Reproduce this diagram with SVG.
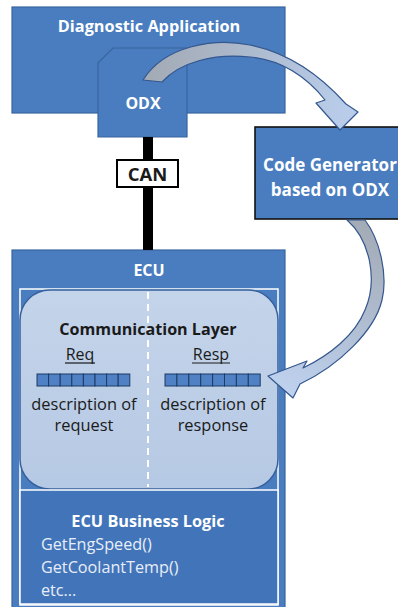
<svg xmlns="http://www.w3.org/2000/svg" width="398" height="607" viewBox="0 0 398 607">
  <style>
    .box { fill: #4a7dbf; stroke: #38659f; stroke-width: 1.2; }
    .wt { fill: #ffffff; font-family: "Open Sans", "Liberation Sans", Arial, sans-serif; font-weight: bold; text-anchor: middle; }
    .dk { fill: #1a1a1a; font-family: "Open Sans", "Liberation Sans", Arial, sans-serif; text-anchor: middle; }
    .code { fill: #e8eef8; font-family: "Open Sans", "Liberation Sans", Arial, sans-serif; font-size: 16.2px; }
    .cell { fill: #4f81c4; stroke: #1d3b66; stroke-width: 1; }
    .flow { stroke: #33578e; stroke-width: 1.2; stroke-linejoin: round; }
  </style>
  <defs>
    <linearGradient id="g1" gradientUnits="userSpaceOnUse" x1="150" y1="80" x2="345" y2="125">
      <stop offset="0" stop-color="#a3abb6"/>
      <stop offset="1" stop-color="#b9cdeb"/>
    </linearGradient>
    <linearGradient id="g2" gradientUnits="userSpaceOnUse" x1="360" y1="220" x2="275" y2="385">
      <stop offset="0" stop-color="#a3abb6"/>
      <stop offset="1" stop-color="#bed1ee"/>
    </linearGradient>
    <linearGradient id="gl" x1="0" y1="0" x2="0" y2="1">
      <stop offset="0" stop-color="#c4d4ea"/>
      <stop offset="1" stop-color="#b6c9e4"/>
    </linearGradient>
  </defs>

  <rect width="398" height="607" fill="#ffffff"/>

  <!-- Diagnostic Application with its ODX tab -->
  <g id="diag-app">
    <rect class="box" x="12" y="7" width="273" height="106"/>
    <text class="wt" x="149" y="32" font-size="16.3">Diagnostic Application</text>
  </g>
  <g id="odx">
    <path class="box" d="M98 63 L113 48 H187 V137 H98 Z"/>
    <text class="wt" x="143" y="109" font-size="16">ODX</text>
  </g>

  <!-- Code generator -->
  <g id="code-gen">
    <rect x="255" y="127" width="150" height="92" fill="#4a7dbf" stroke="#111111" stroke-width="1.6"/>
    <text class="wt" x="330" y="171" font-size="17">Code Generator</text>
    <text class="wt" x="330" y="196" font-size="17">based on ODX</text>
  </g>

  <!-- ECU -->
  <g id="ecu">
    <rect class="box" x="12" y="250" width="273" height="370"/>
    <text class="wt" x="149" y="276" font-size="16">ECU</text>
    <rect x="20" y="289" width="258" height="316" fill="none" stroke="#ffffff" stroke-width="1.5"/>
  </g>

  <g id="comm-layer">
    <rect x="20" y="290" width="258" height="199" rx="30" fill="url(#gl)" stroke="#35609c" stroke-width="1.5"/>
    <line x1="148" y1="292" x2="148" y2="487" stroke="#ffffff" stroke-width="2" stroke-dasharray="7 5"/>
    <text class="dk" x="148" y="335" font-size="16.1" font-weight="bold">Communication Layer</text>
    <text class="dk" x="80" y="360" font-size="16">Req</text>
    <line x1="65" y1="363" x2="95" y2="363" stroke="#1a1a1a" stroke-width="1.2"/>
    <text class="dk" x="211" y="360" font-size="16">Resp</text>
    <line x1="192" y1="363" x2="230" y2="363" stroke="#1a1a1a" stroke-width="1.2"/>
    <g id="req-bits">
      <rect class="cell" x="37" y="374" width="11.6" height="12"/>
      <rect class="cell" x="48.6" y="374" width="11.6" height="12"/>
      <rect class="cell" x="60.2" y="374" width="11.6" height="12"/>
      <rect class="cell" x="71.8" y="374" width="11.6" height="12"/>
      <rect class="cell" x="83.4" y="374" width="11.6" height="12"/>
      <rect class="cell" x="95" y="374" width="11.6" height="12"/>
      <rect class="cell" x="106.6" y="374" width="11.6" height="12"/>
      <rect class="cell" x="118.2" y="374" width="11.6" height="12"/>
    </g>
    <g id="resp-bits">
      <rect class="cell" x="165" y="374" width="11.9" height="12"/>
      <rect class="cell" x="176.9" y="374" width="11.9" height="12"/>
      <rect class="cell" x="188.8" y="374" width="11.9" height="12"/>
      <rect class="cell" x="200.7" y="374" width="11.9" height="12"/>
      <rect class="cell" x="212.6" y="374" width="11.9" height="12"/>
      <rect class="cell" x="224.5" y="374" width="11.9" height="12"/>
      <rect class="cell" x="236.4" y="374" width="11.9" height="12"/>
      <rect class="cell" x="248.3" y="374" width="11.9" height="12"/>
    </g>
    <text class="dk" x="84" y="410" font-size="16.4">description of</text>
    <text class="dk" x="84" y="431" font-size="16.4">request</text>
    <text class="dk" x="213" y="410" font-size="16.4">description of</text>
    <text class="dk" x="213" y="431" font-size="16.4">response</text>
  </g>

  <g id="business-logic">
    <rect x="20" y="490" width="258" height="114" fill="#4274b9" stroke="#ffffff" stroke-width="1.5"/>
    <text class="wt" x="148" y="527" font-size="16.3">ECU Business Logic</text>
    <text class="code" x="41" y="550">GetEngSpeed()</text>
    <text class="code" x="41" y="573">GetCoolantTemp()</text>
    <text class="code" x="41" y="596">etc...</text>
  </g>

  <!-- Connectors -->
  <g id="connectors">
    <rect x="143" y="137" width="10" height="113" fill="#000000"/>
    <g id="can">
      <rect x="117" y="160" width="61" height="27" fill="#ffffff" stroke="#000000" stroke-width="2"/>
      <text class="dk" x="147.5" y="180.5" font-size="18.5" font-weight="bold" fill="#000000">CAN</text>
    </g>
    <path class="flow" fill="url(#g1)" d="M143 80 C165 45 215 38 250 45 C290 53 320 75 346 104 L358 112 L340 130 L316 103 L325 100 C305 75 280 60 250 57 C215 53 180 62 162 82 Z"/>
    <path class="flow" fill="url(#g2)" d="M365 220 C380 240 388 275 382 300 C375 330 340 365 300 384 L293 398 L268 376 L307 361 L303 368 C330 355 355 335 365 310 C378 280 370 240 347 220 Z"/>
  </g>
</svg>
